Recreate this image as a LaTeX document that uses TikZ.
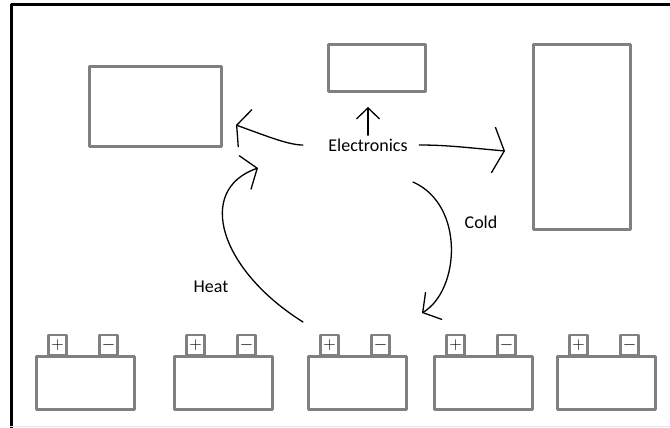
\documentclass[tikz,border=0pt]{standalone}
\usepackage{fontspec}
\setmainfont{Carlito}
\usetikzlibrary{arrows.meta}

\begin{document}
\begin{tikzpicture}[x=1pt, y=-1pt, line join=round,
	box/.style={draw=black!50, line width=2.6pt, inner sep=0pt},
	tag/.style={box, minimum width=18pt, minimum height=20pt, font=\fontsize{19}{19}\selectfont},
	lbl/.style={font=\fontsize{18}{18}\selectfont},
	flow/.style={line width=1.3pt, line cap=round, -{Straight Barb[length=10pt,width=30pt]}}]
	\useasboundingbox (0,0) rectangle (670,428);

	\draw[line width=3pt] (11.5,428) -- (11.5,4.5) -- (670,4.5);
	\draw[black!10, line width=1pt] (10,426.5) -- (670,426.5);

	\node[box, minimum width=132pt, minimum height=80pt] (left) at (155.5,106.5) {};
	\node[box, minimum width=97pt, minimum height=47pt] (top) at (377,68) {};
	\node[box, minimum width=97pt, minimum height=185pt] (right) at (582,137) {};

	\foreach \x [count=\i] in {35,173,307,433,556} {
		\node[tag] (pos\i) at (\x+22.5,345) {$+$};
		\node[tag] (neg\i) at (\x+73.5,345) {$-$};
		\node[box, minimum width=98pt, minimum height=53pt] (bat\i) at (\x+50.5,383) {};
	}

	\node[lbl] (elec) at (368,145) {Electronics};
	\node[lbl] (cold) at (481,222) {Cold};
	\node[lbl] (heat) at (211,287) {Heat};

	\coordinate (toleft) at (236,125);
	\coordinate (totop) at (368,107);
	\coordinate (toright) at (505,151);
	\coordinate (heatin) at (303,322);
	\coordinate (heatout) at (258,168);
	\coordinate (coldin) at (413,182);
	\coordinate (coldout) at (422,313);

	\draw[flow, shorten <=22pt, -{Straight Barb[length=9pt,width=40pt]}] (elec.west) to[out=180, in=-20] (toleft);
	\draw[flow, -{Straight Barb[length=11pt,width=23pt]}] (elec.north) -- (totop);
	\draw[flow, shorten <=8pt, -{Straight Barb[length=11pt,width=46pt]}] (elec.east) to[out=0, in=175] (toright);
	\draw[flow, -{Straight Barb[length=13pt,width=36pt]}] (heatin) .. controls (220,270) and (195,190) .. (heatout);
	\draw[flow, -{Straight Barb[length=13pt,width=32pt]}] (coldin) .. controls (465,205) and (460,290) .. (coldout);
\end{tikzpicture}
\end{document}
